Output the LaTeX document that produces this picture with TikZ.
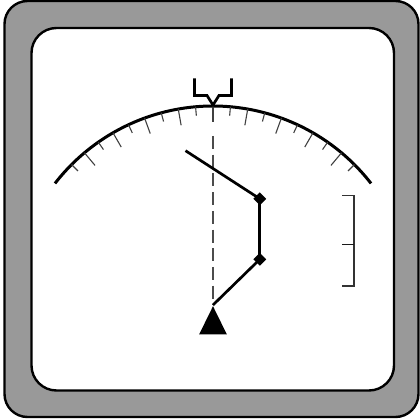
\documentclass[tikz,border=0pt]{standalone}
\usetikzlibrary{shapes.geometric}
\tikzset{
  panel/.style={draw=black,line width=2.4bp},
  thick line/.style={draw=black,line width=2.7bp},
  tick line/.style={draw=black!75,line width=1.1bp},
  marker/.style={diamond,fill=black,inner sep=0pt,minimum size=13bp},
}
\begin{document}
\begin{tikzpicture}[x=1bp,y=1bp]
\useasboundingbox (0,0) rectangle (420,420);
\fill[white] (0,0) rectangle (420,420);
\draw[panel,fill=black!40,rounded corners=23bp] (4.5,3) rectangle (418.5,419);
\draw[panel,fill=white,rounded corners=25bp] (31.5,29.5) rectangle (394,392);
% dial
\coordinate (dial) at (213,114);
\draw[thick line,line width=3bp] ([shift={(142.2:200bp)}]dial) arc[start angle=142.2,end angle=37.8,radius=200bp];
\foreach \a in {50,60,...,130}
  \draw[tick line] ([shift={(\a:200bp)}]dial) -- ([shift={(\a:183.5bp)}]dial);
\foreach \a in {45,55,...,135}
  \draw[tick line] ([shift={(\a:200bp)}]dial) -- ([shift={(\a:191bp)}]dial);
% bug
\draw[thick line,line join=miter] (194.5,341.5) -- (194.5,324.5) -- (207,324.5) -- (213,315) -- (219,324.5) -- (231.5,324.5) -- (231.5,341.5);
% centre line and route
\fill[black] (213,113.8) -- (226.8,85.7) -- (199.2,85.7) -- cycle;
\coordinate (lineTop) at (213,284);
\coordinate (lineEnd) at (213,115);
\draw[draw=black!70,line width=1.4bp,dash pattern=on 13bp off 5.7bp] (lineTop) -- (lineEnd);
\node[marker] (w1) at (259.8,221.2) {};
\node[marker] (w2) at (259.8,160.7) {};
\coordinate (start) at (185.5,269.3);
\draw[thick line] (start) -- (w1.center);
\draw[thick line,line width=3.2bp] (w1.center) -- (w2.center);
\draw[thick line] (w2.center) -- (lineEnd);
% range scale
\draw[tick line,draw=black!80,line width=1.3bp] (342.3,224.3) -- (354,224.3) -- (354,134) -- (342.3,134);
\draw[draw=black!90,line width=1.2bp] (342.3,175.7) -- (354,175.7);
\end{tikzpicture}
\end{document}
